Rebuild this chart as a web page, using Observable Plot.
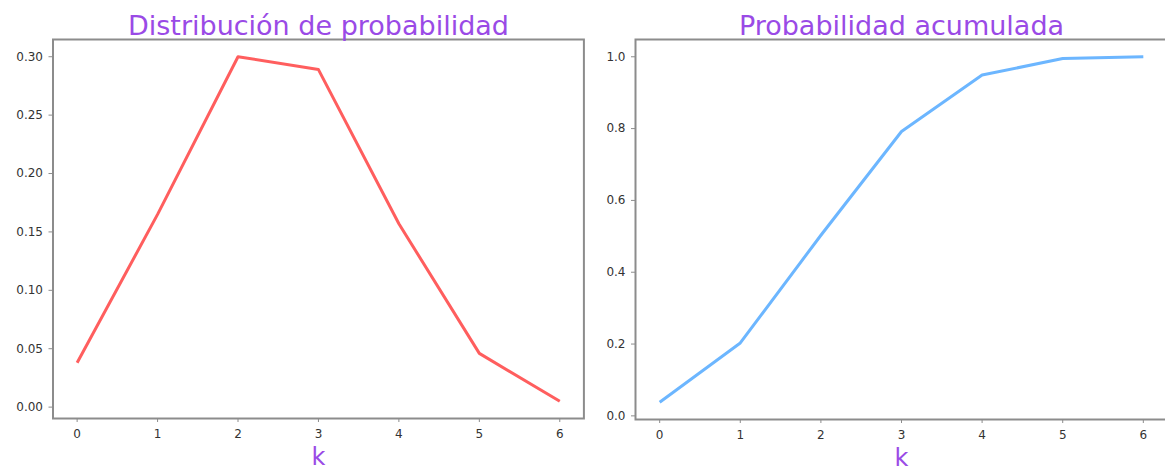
<!DOCTYPE html>
<html>
<head>
<meta charset="utf-8">
<script src="https://cdn.jsdelivr.net/npm/d3@7"></script>
<script src="https://cdn.jsdelivr.net/npm/@observablehq/plot@0.6"></script>
<style>
  html, body { margin: 0; padding: 0; background: #fff; overflow: hidden; }
  #fig { position: relative; width: 1165px; height: 472px; }
  #fig svg { position: absolute; top: 0; overflow: visible; }
</style>
</head>
<body>
<div id="fig"></div>
<script>
// Number of successes and its probabilities
const k = [0, 1, 2, 3, 4, 5, 6];
const pmf = [0.038, 0.165, 0.300, 0.289, 0.157, 0.046, 0.005];
const cdf = [0.038, 0.203, 0.503, 0.792, 0.949, 0.995, 1.000];

// Tick values
const xTicks = [0, 1, 2, 3, 4, 5, 6];
const pmfTicks = [0, 0.05, 0.10, 0.15, 0.20, 0.25, 0.30];
const cdfTicks = [0, 0.2, 0.4, 0.6, 0.8, 1.0];

// Texts
const titles = ["Distribución de probabilidad", "Probabilidad acumulada"];
const xLabel = "k";

const purple = "#9a4ae6";
const spine = "#8c8c8c";
const ink = "#333";
const font = "DejaVu Sans";

// Extent with a 5% margin on each side
function padded(values) {
  const [lo, hi] = d3.extent(values);
  const m = (hi - lo) * 0.05;
  return [lo - m, hi + m];
}

function panel({width, left, marginLeft, marginRight, marginBottom, values, ticks, fmt, color, title}) {
  const rows = k.map((d, i) => ({k: d, p: values[i]}));
  const svg = Plot.plot({
    width,
    height: 472,
    marginTop: 39,
    marginBottom,
    marginLeft,
    marginRight,
    style: {fontFamily: font, fontSize: "12px", background: "transparent"},
    x: {domain: padded(k)},
    y: {domain: padded(values)},
    marks: [
      Plot.frame({stroke: spine, strokeWidth: 2}),
      Plot.axisX(xTicks, {tickSize: 4, tickPadding: 7, stroke: spine, fill: ink, label: null, fontSize: 12}),
      Plot.axisY(ticks, {tickSize: 4, tickPadding: 6, stroke: spine, fill: ink, label: null, fontSize: 12, tickFormat: d3.format(fmt)}),
      Plot.line(rows, {x: "k", y: "p", stroke: color, strokeWidth: 3, strokeLinejoin: "round", strokeLinecap: "butt"}),
      Plot.text([title], {frameAnchor: "top", text: d => d, lineAnchor: "middle", dy: -13, fontSize: 27, fill: purple}),
      Plot.text([xLabel], {frameAnchor: "bottom", text: d => d, lineAnchor: "middle", dy: 39, fontSize: 24, fill: purple})
    ]
  });
  svg.style.left = left + "px";
  return svg;
}

const fig = document.getElementById("fig");
fig.append(
  panel({width: 600, left: 0, marginLeft: 52.5, marginRight: 16.6, marginBottom: 54,
         values: pmf, ticks: pmfTicks, fmt: ".2f", color: "#ff5e5e", title: titles[0]}),
  panel({width: 577, left: 590, marginLeft: 45, marginRight: 0, marginBottom: 53,
         values: cdf, ticks: cdfTicks, fmt: ".1f", color: "#6cb6ff", title: titles[1]})
);
</script>
</body>
</html>
